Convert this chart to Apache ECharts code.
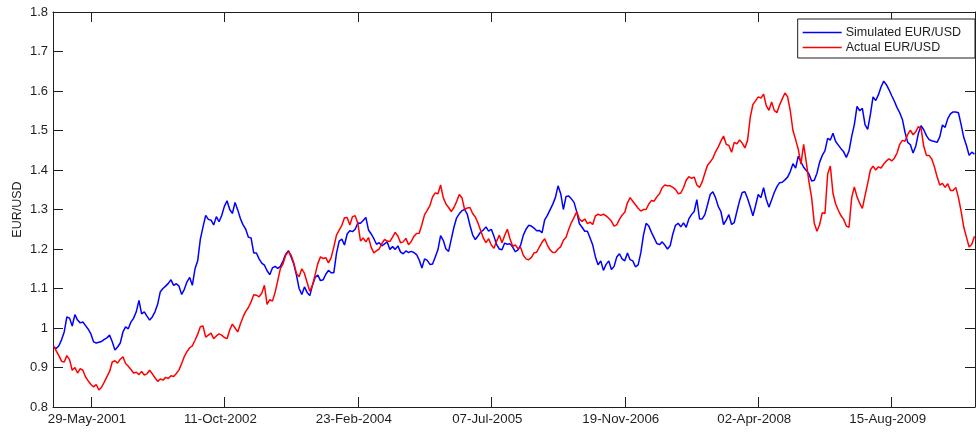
<!DOCTYPE html>
<html>
<head>
<meta charset="utf-8">
<script src="https://cdn.jsdelivr.net/npm/echarts@6/dist/echarts.min.js"></script>
<style>
  html, body { margin: 0; padding: 0; background: #fff; }
  #chart { width: 976px; height: 432px; }
</style>
</head>
<body>
<div id="chart"></div>
<script>
// Sampling of both series: one value every 10 calendar days from the first date
const firstSample = '2001-01-09';
const sampleStepDays = 10;

// Visible date window of the horizontal axis
const axisStart = '2001-01-07';
const axisEnd = '2010-06-23';

// Date tick labels (every 500 days)
const dateTicks = ['29-May-2001', '11-Oct-2002', '23-Feb-2004', '07-Jul-2005',
                   '19-Nov-2006', '02-Apr-2008', '15-Aug-2009'];

// Rate axis
const rateMin = 0.8;
const rateMax = 1.8;
const rateStep = 0.1;

const seriesNames = ['Simulated EUR/USD', 'Actual EUR/USD'];

const simulated = [
  0.952,0.948,0.955,0.97,0.99,1.028,1.025,1.005,1.034,1.02,
  1.013,1.015,1.006,0.997,0.985,0.965,0.962,0.964,0.966,0.971,
  0.975,0.982,0.965,0.944,0.952,0.962,0.99,1.003,0.998,1.015,
  1.025,1.041,1.07,1.036,1.041,1.03,1.02,1.028,1.041,1.06,
  1.092,1.1,1.106,1.113,1.122,1.108,1.112,1.106,1.085,1.098,
  1.117,1.128,1.108,1.15,1.17,1.225,1.256,1.285,
  1.275,1.273,1.261,1.282,1.269,1.285,1.308,1.322,1.3,1.29,
  1.318,1.299,1.277,1.261,1.25,1.23,1.228,1.19,1.19,1.175,
  1.164,1.159,1.145,1.135,1.152,1.156,1.151,1.156,1.17,1.187,
  1.196,1.18,1.162,1.134,1.1,1.085,1.104,1.09,1.082,1.108,
  1.128,1.134,1.12,1.122,1.136,1.146,1.14,1.14,1.189,1.22,
  1.225,1.21,1.238,1.246,1.244,1.25,1.266,1.265,
  1.272,1.28,1.248,1.238,1.226,1.212,1.216,1.208,1.213,1.218,
  1.199,1.206,1.199,1.208,1.192,1.188,1.195,1.191,1.194,1.191,
  1.186,1.172,1.152,1.175,1.171,1.161,1.162,1.18,1.198,1.234,
  1.222,1.2,1.194,1.225,1.255,1.279,1.289,1.297,1.3,1.288,
  1.26,1.236,1.224,1.233,1.243,1.248,1.256,1.245,1.25,1.232,
  1.211,1.2,1.198,1.215,1.212,1.213,1.205,
  1.193,1.198,1.21,1.235,1.25,1.26,1.258,1.253,1.246,1.247,
  1.241,1.274,1.285,1.299,1.313,1.33,1.36,1.34,1.3,1.333,
  1.334,1.327,1.318,1.294,1.264,1.255,1.245,1.245,1.228,1.21,
  1.18,1.16,1.17,1.146,1.161,1.17,1.148,1.156,1.18,1.188,
  1.175,1.17,1.19,1.173,1.17,1.155,1.16,1.19,1.235,1.265,
  1.258,1.242,1.228,1.214,1.211,1.218,1.21,1.2,
  1.208,1.238,1.26,1.265,1.256,1.266,1.255,1.276,1.287,1.295,
  1.325,1.276,1.276,1.287,1.312,1.338,1.345,1.33,1.308,1.295,
  1.262,1.273,1.287,1.262,1.267,1.295,1.322,1.343,1.345,1.328,
  1.307,1.284,1.31,1.338,1.33,1.355,1.326,1.306,1.324,1.343,
  1.358,1.368,1.369,1.375,1.382,1.396,1.416,1.405,1.435,1.421,
  1.407,1.399,1.39,1.372,1.374,1.392,1.42,1.437,
  1.449,1.48,1.476,1.493,1.472,1.463,1.454,1.446,1.432,1.448,
  1.485,1.515,1.561,1.55,1.556,1.515,1.503,1.54,1.585,1.576,
  1.59,1.61,1.625,1.616,1.603,1.588,1.574,1.558,1.545,1.528,
  1.495,1.47,1.464,1.443,1.46,1.493,1.512,1.502,1.487,1.477,
  1.474,1.472,1.47,1.484,1.514,1.508,1.53,1.542,1.547,1.547,
  1.545,1.515,1.482,1.462,1.437,1.445,1.44
];

const actual = [
  0.955,0.942,0.93,0.916,0.914,0.93,0.92,0.893,0.9,0.886,
  0.897,0.893,0.876,0.866,0.857,0.851,0.857,0.843,0.85,0.863,
  0.877,0.89,0.914,0.917,0.911,0.921,0.927,0.91,0.903,0.895,
  0.886,0.888,0.882,0.89,0.881,0.884,0.893,0.884,0.874,0.865,
  0.871,0.868,0.875,0.872,0.879,0.877,0.885,0.894,0.91,0.928,
  0.94,0.95,0.955,0.969,0.984,1.003,1.005,0.977,
  0.982,0.987,0.973,0.98,0.985,0.982,0.976,0.973,0.995,1.01,
  1.0,0.99,1.01,1.028,1.042,1.052,1.066,1.084,1.083,1.079,
  1.088,1.108,1.06,1.072,1.068,1.09,1.12,1.151,1.163,1.185,
  1.193,1.184,1.165,1.138,1.13,1.15,1.138,1.115,1.093,1.108,
  1.135,1.163,1.18,1.176,1.178,1.165,1.178,1.205,1.235,1.248,
  1.26,1.279,1.28,1.261,1.282,1.284,1.265,1.22,
  1.228,1.218,1.229,1.204,1.19,1.196,1.2,1.214,1.224,1.22,
  1.219,1.23,1.242,1.233,1.216,1.218,1.227,1.211,1.219,1.232,
  1.239,1.24,1.262,1.287,1.298,1.31,1.332,1.342,1.34,1.362,
  1.33,1.314,1.305,1.295,1.305,1.32,1.338,1.33,1.3,1.304,
  1.305,1.29,1.281,1.266,1.247,1.228,1.216,1.226,1.21,1.202,
  1.22,1.235,1.216,1.234,1.25,1.226,1.207,
  1.21,1.201,1.204,1.184,1.175,1.173,1.178,1.19,1.192,1.205,
  1.217,1.226,1.21,1.198,1.191,1.192,1.2,1.206,1.222,1.23,
  1.25,1.267,1.28,1.294,1.276,1.27,1.276,1.264,1.268,1.262,
  1.284,1.288,1.285,1.288,1.284,1.278,1.27,1.258,1.261,1.275,
  1.286,1.293,1.317,1.33,1.321,1.312,1.303,1.296,1.3,1.3,
  1.314,1.323,1.321,1.332,1.34,1.355,1.362,1.36,
  1.36,1.356,1.351,1.34,1.342,1.355,1.374,1.383,1.379,1.382,
  1.362,1.356,1.37,1.392,1.412,1.42,1.43,1.446,1.458,1.473,
  1.486,1.465,1.462,1.445,1.47,1.466,1.476,1.468,1.456,1.475,
  1.533,1.566,1.575,1.585,1.582,1.592,1.563,1.551,1.572,1.551,
  1.545,1.565,1.58,1.595,1.585,1.55,1.5,1.477,1.452,1.415,
  1.465,1.42,1.37,1.33,1.265,1.245,1.262,1.292,
  1.29,1.39,1.41,1.341,1.314,1.298,1.284,1.275,1.258,1.255,
  1.33,1.357,1.332,1.316,1.303,1.335,1.366,1.4,1.41,1.4,
  1.408,1.405,1.415,1.423,1.428,1.423,1.43,1.443,1.465,1.475,
  1.473,1.49,1.501,1.489,1.497,1.51,1.505,1.46,1.437,1.437,
  1.428,1.408,1.383,1.362,1.366,1.356,1.365,1.348,1.348,1.356,
  1.33,1.295,1.255,1.23,1.205,1.212,1.232
];

// ---- date helpers (day numbers counted from 1970-01-01, UTC) ----
const MONTHS = ['Jan','Feb','Mar','Apr','May','Jun','Jul','Aug','Sep','Oct','Nov','Dec'];
function isoDay(iso) {
  const p = iso.split('-').map(Number);
  return Date.UTC(p[0], p[1] - 1, p[2]) / 86400000;
}
function labelDay(label) {
  const p = label.split('-');
  return Date.UTC(+p[2], MONTHS.indexOf(p[1]), +p[0]) / 86400000;
}
function formatDay(day) {
  const d = new Date(Math.round(day) * 86400000);
  const dd = String(d.getUTCDate()).padStart(2, '0');
  return dd + '-' + MONTHS[d.getUTCMonth()] + '-' + d.getUTCFullYear();
}

const day0 = isoDay(firstSample);
const toPairs = arr => arr.map((v, i) => [day0 + i * sampleStepDays, v]);
const tickDays = dateTicks.map(labelDay);

const ink = '#1f1f1f';
const font = 'Liberation Sans, Arial, Helvetica, sans-serif';
const colors = ['#0000ff', '#ff0000'];

const xBase = {
  type: 'value',
  min: isoDay(axisStart),
  max: isoDay(axisEnd),
  axisLine: { show: true, lineStyle: { color: ink, width: 1 } },
  axisTick: { show: true, inside: true, length: 10, customValues: tickDays,
              lineStyle: { color: ink, width: 1 } },
  splitLine: { show: false }
};
const yBase = {
  type: 'value',
  min: rateMin,
  max: rateMax,
  interval: rateStep,
  axisLine: { show: true, lineStyle: { color: ink, width: 1 } },
  axisTick: { show: true, inside: true, length: 10, lineStyle: { color: ink, width: 1 } },
  splitLine: { show: false }
};

const chart = echarts.init(document.getElementById('chart'), null, { renderer: 'canvas' });
chart.setOption({
  animation: false,
  backgroundColor: '#ffffff',
  textStyle: { fontFamily: font },
  grid: { left: 53, right: 1, top: 12, bottom: 25, containLabel: false },
  legend: {
    data: seriesNames.map(n => ({ name: n, icon: 'rect' })),
    orient: 'vertical',
    right: 1,
    top: 19,
    padding: [6, 14, 3, 5],
    itemGap: 0,
    itemWidth: 39,
    itemHeight: 1.4,
    backgroundColor: '#ffffff',
    borderColor: ink,
    borderWidth: 1,
    borderRadius: 0,
    textStyle: { color: ink, fontSize: 12.5, lineHeight: 15, fontFamily: font, padding: [0, 0, 0, -1] }
  },
  xAxis: [
    Object.assign({}, xBase, {
      position: 'bottom',
      axisLabel: {
        show: true, customValues: tickDays, margin: 6,
        color: ink, fontSize: 13.3, fontFamily: font,
        padding: [0, 8, 0, 0],
        formatter: v => formatDay(v)
      }
    }),
    Object.assign({}, xBase, { position: 'top', axisLabel: { show: false } })
  ],
  yAxis: [
    Object.assign({}, yBase, {
      position: 'left',
      name: 'EUR/USD',
      nameLocation: 'middle',
      nameGap: 29,
      nameMoveOverlap: false,
      nameTextStyle: { color: ink, fontSize: 12.5, fontFamily: font },
      axisLabel: {
        show: true, margin: 5, color: ink, fontSize: 13, fontFamily: font,
        formatter: v => String(+v.toFixed(1))
      }
    }),
    Object.assign({}, yBase, { position: 'right', axisLabel: { show: false } })
  ],
  series: seriesNames.map((name, i) => ({
    name: name,
    type: 'line',
    data: toPairs(i === 0 ? simulated : actual),
    showSymbol: false,
    symbol: 'none',
    lineStyle: { color: colors[i], width: 1.5 },
    itemStyle: { color: colors[i] },
    xAxisIndex: 0,
    yAxisIndex: 0
  }))
});
</script>
</body>
</html>
